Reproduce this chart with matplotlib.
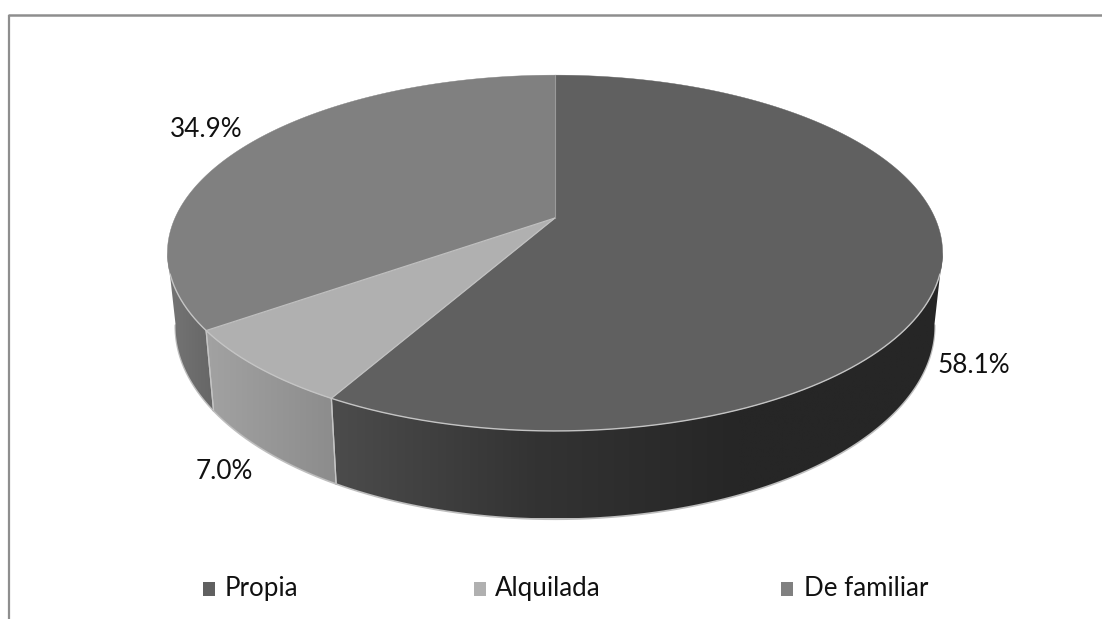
import numpy as np
import matplotlib
matplotlib.use("Agg")
import matplotlib.pyplot as plt
from matplotlib.patches import Polygon, Rectangle
from matplotlib.colors import LinearSegmentedColormap

# Chart data
categories = ["Propia", "Alquilada", "De familiar"]
shares = [58.1, 7.0, 34.9]

# Styling
top_colors = ["#606060", "#b0b0b0", "#808080"]
wall_stops = [
    ["#4c4c4c", "#333333", "#262626", "#262626"],
    ["#a2a2a2", "#8c8c8c"],
    ["#757575", "#666666"],
]
edge_color = "#c4c4c4"
frame_color = "#8e8e8e"
label_xy = [(974, 373), (224, 479), (206, 137)]
legend_box_x = [203, 474, 781]
legend_text_x = [225, 495, 804]

plt.rcParams["font.family"] = ["Lato", "DejaVu Sans"]

W, H = 1102, 619
fig = plt.figure(figsize=(W / 100, H / 100), dpi=100, facecolor="white")
ax = fig.add_axes([0, 0, 1, 1])
ax.set_axis_off()

# Perspective projection of a tilted disc, with angles clockwise from 12 o'clock
CX, K = 555.0, 0.197


def project(deg, apex_y, half_w, half_h, cx=CX):
    t = np.radians(deg)
    x, y = np.sin(t), np.cos(t)
    w = 1 + K * y
    return cx + half_w * x / w, apex_y - half_h * y / w


def top_rim(deg):
    return project(deg, 218.0, 380.0, 171.0)


def low_rim(deg):
    return project(deg, 288.0, 372.0, 185.0)


def gradient_fill(poly_xy, stops, zorder):
    patch = Polygon(poly_xy, closed=True, facecolor="none", edgecolor="none", zorder=zorder)
    ax.add_patch(patch)
    cmap = LinearSegmentedColormap.from_list("wall", stops)
    x0, x1 = poly_xy[:, 0].min(), poly_xy[:, 0].max()
    y0, y1 = poly_xy[:, 1].min(), poly_xy[:, 1].max()
    img = ax.imshow(np.linspace(0, 1, 256)[None, :], cmap=cmap, aspect="auto",
                    extent=(x0, x1, y1, y0), zorder=zorder, interpolation="bilinear")
    img.set_clip_path(patch)


fractions = np.array(shares) / sum(shares)
bounds = np.concatenate([[0], np.cumsum(fractions) * 360])

# Side walls only exist on the front half of the disc
WALL_FROM, WALL_TO = 101.0, 259.0
for i in range(len(shares)):
    a = max(bounds[i], WALL_FROM)
    b = min(bounds[i + 1], WALL_TO)
    if b <= a:
        continue
    deg = np.linspace(a, b, 160)
    tx, ty = top_rim(deg)
    lx, ly = low_rim(deg)
    poly = np.column_stack([np.r_[tx, lx[::-1]], np.r_[ty, ly[::-1]]])
    gradient_fill(poly, wall_stops[i], zorder=2)
    # soft outline along the lower rim
    ax.plot(lx, ly + 0.6, color="#a8a8a8", lw=1.6, alpha=0.75, zorder=1.5,
            solid_capstyle="round")
    # seams where two walls meet
    for d in (a, b):
        if d not in (WALL_FROM, WALL_TO):
            px, py = top_rim(d)
            qx, qy = low_rim(d)
            ax.plot([px, qx], [py, qy], color=edge_color, lw=0.9, zorder=3)

# Top faces
for i, color in enumerate(top_colors):
    deg = np.linspace(bounds[i], bounds[i + 1], 240)
    rx, ry = top_rim(deg)
    poly = np.column_stack([np.r_[CX, rx], np.r_[218.0, ry]])
    ax.add_patch(Polygon(poly, closed=True, facecolor=color, edgecolor=color, lw=0.3, zorder=4))

# Highlights on the front rim and on the slice boundaries
front = np.linspace(108.0, 252.0, 400)
rx, ry = top_rim(front)
ax.plot(rx, ry, color=edge_color, lw=1.0, zorder=5)
for d in bounds[1:3]:
    rx, ry = top_rim(d)
    ax.plot([CX, rx], [218.0, ry], color=edge_color, lw=0.9, alpha=0.9, zorder=5)
rx, ry = top_rim(0.0)
ax.plot([CX, rx], [218.0, ry], color="#9a9a9a", lw=0.8, zorder=5)

# Percentage labels
for value, (x, y) in zip(shares, label_xy):
    ax.text(x, y, f"{value:.1f}%", ha="center", va="baseline", fontsize=18.8,
            color="#111111", zorder=6)

# Legend row
for name, color, bx, tx_ in zip(categories, top_colors, legend_box_x, legend_text_x):
    ax.add_patch(Rectangle((bx, 582), 12, 14, facecolor=color, edgecolor="none", zorder=6))
    ax.text(tx_, 596, name, ha="left", va="baseline", fontsize=18.6, color="#111111", zorder=6)

# Chart frame: top and left sides only
ax.plot([8, W], [15, 15], color=frame_color, lw=1.8, zorder=7, solid_capstyle="butt")
ax.plot([8.5, 8.5], [15, H], color=frame_color, lw=1.6, zorder=7, solid_capstyle="butt")

ax.set_xlim(0, W)
ax.set_ylim(H, 0)
fig.savefig("out.png", dpi=100, facecolor="white")
